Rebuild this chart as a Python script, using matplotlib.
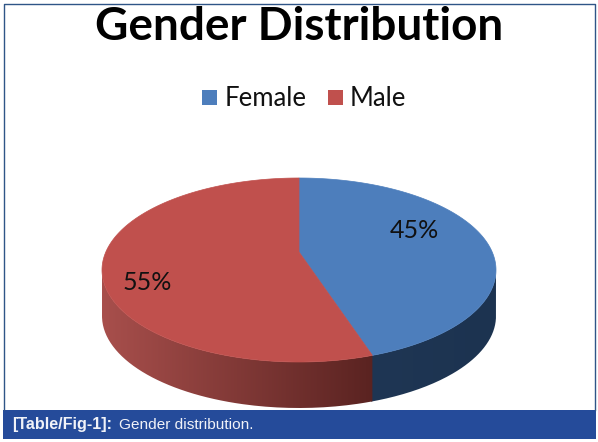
import matplotlib
matplotlib.use('Agg')
import matplotlib.pyplot as plt
from matplotlib.colors import to_rgb
from matplotlib.patches import PathPatch, Rectangle
from matplotlib.path import Path
import numpy as np

W, H = 598, 442

categories = ['Female', 'Male']
shares = [45, 55]
share_labels = ['45%', '55%']
top_colors = ['#4d7ebc', '#c0504d']
title = 'Gender Distribution'
caption_bold = '[Table/Fig-1]:'
caption_rest = 'Gender distribution.'
BAR = '#254b9a'
FRAME = '#2f5587'


# axes box given in image pixels (y from the top)
def box(x0, y0, x1, y1):
    return [x0 / W, 1 - y1 / H, (x1 - x0) / W, (y1 - y0) / H]


# perspective look of the pie: circle goes to the ellipse, centre moves up
def project(deg, r=1.0, b=0.196):
    t = np.radians(deg)
    u = r * np.sin(t)
    v = r * np.cos(t)
    d = 1 + b * v
    return np.sqrt(1 - b * b) * u / d, (v + b) / d


# side wall below the rim, between two ellipse angles in degrees
def wall_path(a0, a1, depth):
    t = np.radians(np.linspace(a0, a1, 100))
    xs = np.cos(t)
    ys = np.sin(t)
    verts = np.concatenate([np.c_[xs, ys], np.c_[xs[::-1], ys[::-1] - depth]])
    return Path(np.vstack([verts, verts[:1]]))


def draw_wall(ax, a0, a1, depth, c0, c1):
    c0 = np.array(to_rgb(c0))
    c1 = np.array(to_rgb(c1))
    x0 = min(np.cos(np.radians(a0)), np.cos(np.radians(a1)))
    x1 = max(np.cos(np.radians(a0)), np.cos(np.radians(a1)))
    f = np.linspace(0, 1, 256)[None, :, None]
    im = ax.imshow(c0 + (c1 - c0) * f, extent=(x0, x1, -1 - depth, 0), aspect='auto', zorder=1)
    patch = PathPatch(wall_path(a0, a1, depth), transform=ax.transData, fc='none', ec='none')
    ax.add_patch(patch)
    im.set_clip_path(patch)


fig = plt.figure(figsize=(W / 100, H / 100), dpi=100)

# pie top ellipse spans x 102-496, y 178-362, wall goes to 408
ax = fig.add_axes(box(102, 178, 496, 408))
depth = 0.5
edges = np.concatenate([[0], np.cumsum(shares)]) * 360 / sum(shares)
for i in range(len(shares)):
    px, py = project(np.linspace(edges[i], edges[i + 1], 200))
    cx, cy = project(0.0, 0.0)
    ax.fill(np.r_[cx, px], np.r_[cy, py], color=top_colors[i], lw=0.5, zorder=2, clip_on=False)

sx, sy = project(edges[1])
split = np.degrees(np.arctan2(sy, sx))
# small overlap so no white seam shows between the two walls
draw_wall(ax, split - 0.4, 0, depth, '#1f3654', '#1c3350')
draw_wall(ax, -180, split, depth, '#a84f4c', '#5a2321')
ax.set_xlim(-1, 1)
ax.set_ylim(-1 - depth, 1)
ax.axis('off')

# whole figure overlay for text, pixel coordinates
top = fig.add_axes([0, 0, 1, 1])
top.set_xlim(0, W)
top.set_ylim(H, 0)
top.axis('off')

top.text(299, 40, title, fontsize=33, fontweight='bold', family='Lato', ha='center', va='baseline', color='black')

top.add_patch(Rectangle((202, 90), 15, 15, fc=top_colors[0], ec='none'))
top.text(225, 98, categories[0], fontsize=18.5, family='Lato', va='center', color='#111111')
top.add_patch(Rectangle((328, 90), 15, 15, fc=top_colors[1], ec='none'))
top.text(350, 98, categories[1], fontsize=18.5, family='Lato', va='center', color='#111111')

top.text(414, 230, share_labels[0], fontsize=18, family='Lato', ha='center', va='center', color='#111111')
top.text(147, 282, share_labels[1], fontsize=18, family='Lato', ha='center', va='center', color='#111111')

# frame and caption bar
top.plot([3.5, 3.5, 594.5, 594.5], [410, 3.5, 3.5, 410], color=FRAME, lw=1)
top.add_patch(Rectangle((3, 410), 593, 29, fc=BAR, ec='none'))
top.text(12, 425, caption_bold, fontsize=11.6, fontweight='bold', family='Liberation Sans', va='center', color='#f0f2f8')
top.text(119, 425, caption_rest, fontsize=11.1, family='Liberation Sans', va='center', color='#f0f2f8')

fig.savefig('out.png', dpi=100)
